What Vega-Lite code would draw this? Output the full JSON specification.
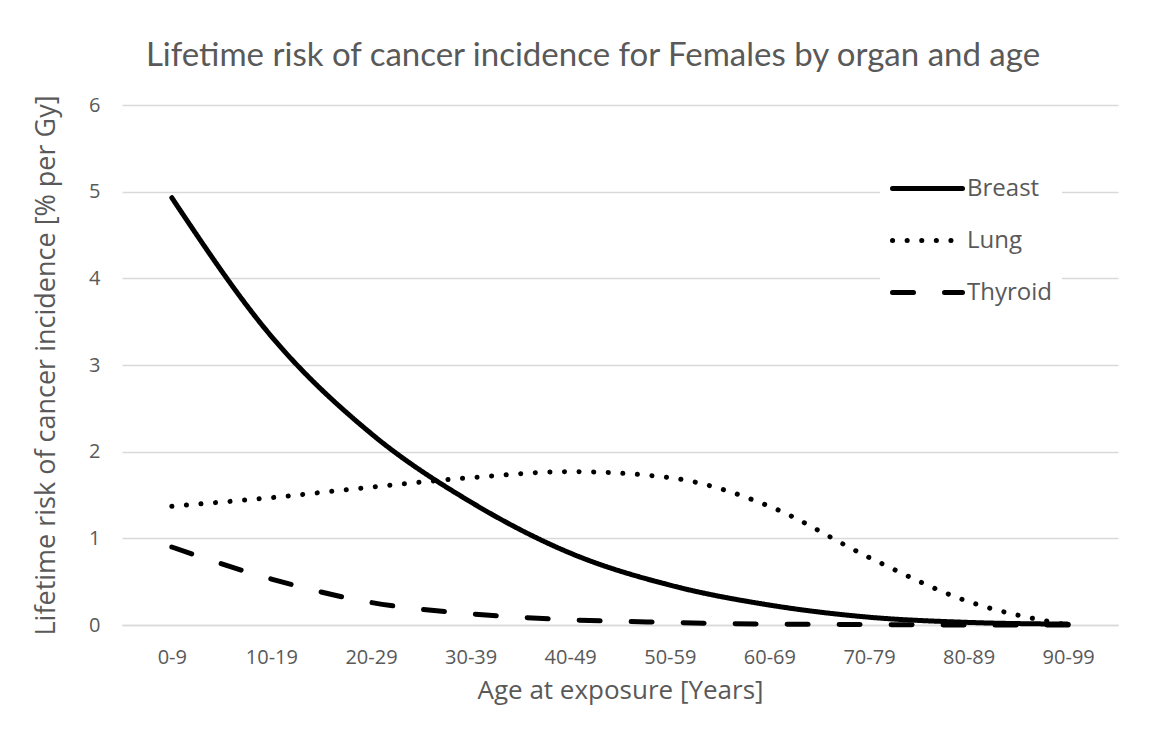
{
  "$schema": "https://vega.github.io/schema/vega-lite/v6.json",
  "width": 996,
  "height": 520,
  "autosize": {"type": "none"},
  "padding": {"left": 122, "top": 105, "right": 46, "bottom": 111},
  "background": "white",
  "title": {
    "text": "Lifetime risk of cancer incidence for Females by organ and age",
    "font": "Lato",
    "fontSize": 33,
    "fontWeight": "normal",
    "color": "#595959",
    "anchor": "middle",
    "dx": -27,
    "offset": 22
  },
  "data": {
    "values": [
      {"age": "0-9", "organ": "Breast", "risk": 4.93},
      {"age": "10-19", "organ": "Breast", "risk": 3.33},
      {"age": "20-29", "organ": "Breast", "risk": 2.21},
      {"age": "30-39", "organ": "Breast", "risk": 1.42},
      {"age": "40-49", "organ": "Breast", "risk": 0.83},
      {"age": "50-59", "organ": "Breast", "risk": 0.46},
      {"age": "60-69", "organ": "Breast", "risk": 0.23},
      {"age": "70-79", "organ": "Breast", "risk": 0.09},
      {"age": "80-89", "organ": "Breast", "risk": 0.03},
      {"age": "90-99", "organ": "Breast", "risk": 0.01},
      {"age": "0-9", "organ": "Lung", "risk": 1.37},
      {"age": "10-19", "organ": "Lung", "risk": 1.47},
      {"age": "20-29", "organ": "Lung", "risk": 1.59},
      {"age": "30-39", "organ": "Lung", "risk": 1.70},
      {"age": "40-49", "organ": "Lung", "risk": 1.77},
      {"age": "50-59", "organ": "Lung", "risk": 1.70},
      {"age": "60-69", "organ": "Lung", "risk": 1.37},
      {"age": "70-79", "organ": "Lung", "risk": 0.78},
      {"age": "80-89", "organ": "Lung", "risk": 0.27},
      {"age": "90-99", "organ": "Lung", "risk": 0.0},
      {"age": "0-9", "organ": "Thyroid", "risk": 0.90},
      {"age": "10-19", "organ": "Thyroid", "risk": 0.53},
      {"age": "20-29", "organ": "Thyroid", "risk": 0.26},
      {"age": "30-39", "organ": "Thyroid", "risk": 0.13},
      {"age": "40-49", "organ": "Thyroid", "risk": 0.06},
      {"age": "50-59", "organ": "Thyroid", "risk": 0.03},
      {"age": "60-69", "organ": "Thyroid", "risk": 0.01},
      {"age": "70-79", "organ": "Thyroid", "risk": 0.005},
      {"age": "80-89", "organ": "Thyroid", "risk": 0.0},
      {"age": "90-99", "organ": "Thyroid", "risk": 0.0}
    ]
  },
  "mark": {"type": "line", "color": "black", "strokeWidth": 5, "strokeCap": "round", "interpolate": "monotone"},
  "encoding": {
    "x": {
      "field": "age",
      "type": "ordinal",
      "sort": null,
      "title": "Age at exposure [Years]",
      "axis": {
        "labelAngle": 0,
        "labelFont": "Open Sans",
        "labelFontSize": 20,
        "labelColor": "#595959",
        "labelPadding": 22,
        "ticks": false,
        "domainColor": "#d9d9d9",
        "domainWidth": 1.5,
        "grid": false,
        "titleFont": "Open Sans",
        "titleFontSize": 26,
        "titleFontWeight": "normal",
        "titleColor": "#595959",
        "titlePadding": 10,
        "titleX": 498
      }
    },
    "y": {
      "field": "risk",
      "type": "quantitative",
      "scale": {"domain": [0, 6], "nice": false},
      "title": "Lifetime risk of cancer incidence [% per Gy]",
      "axis": {
        "values": [0, 1, 2, 3, 4, 5, 6],
        "labelFont": "Open Sans",
        "labelFontSize": 20,
        "labelColor": "#595959",
        "labelPadding": 22,
        "ticks": false,
        "domain": false,
        "gridColor": "#d9d9d9",
        "gridWidth": 1.5,
        "titleFont": "Open Sans",
        "titleFontSize": 27,
        "titleFontWeight": "normal",
        "titleColor": "#595959",
        "titlePadding": 28
      }
    },
    "strokeDash": {
      "field": "organ",
      "type": "nominal",
      "scale": {"domain": ["Breast", "Lung", "Thyroid"], "range": [[1, 0], [0.1, 14.5], [21, 31]]},
      "legend": {
        "title": null,
        "orient": "none",
        "legendX": 758,
        "legendY": 36,
        "fillColor": "white",
        "padding": 10,
        "symbolType": "stroke",
        "symbolSize": 4900,
        "symbolStrokeWidth": 5,
        "symbolStrokeColor": "black",
        "labelFont": "Open Sans",
        "labelFontSize": 24,
        "labelColor": "#595959",
        "labelOffset": 2,
        "rowPadding": 2,
        "encode": {"symbols": {"update": {"strokeCap": {"value": "round"}}}}
      }
    }
  },
  "config": {"view": {"stroke": null}}
}
